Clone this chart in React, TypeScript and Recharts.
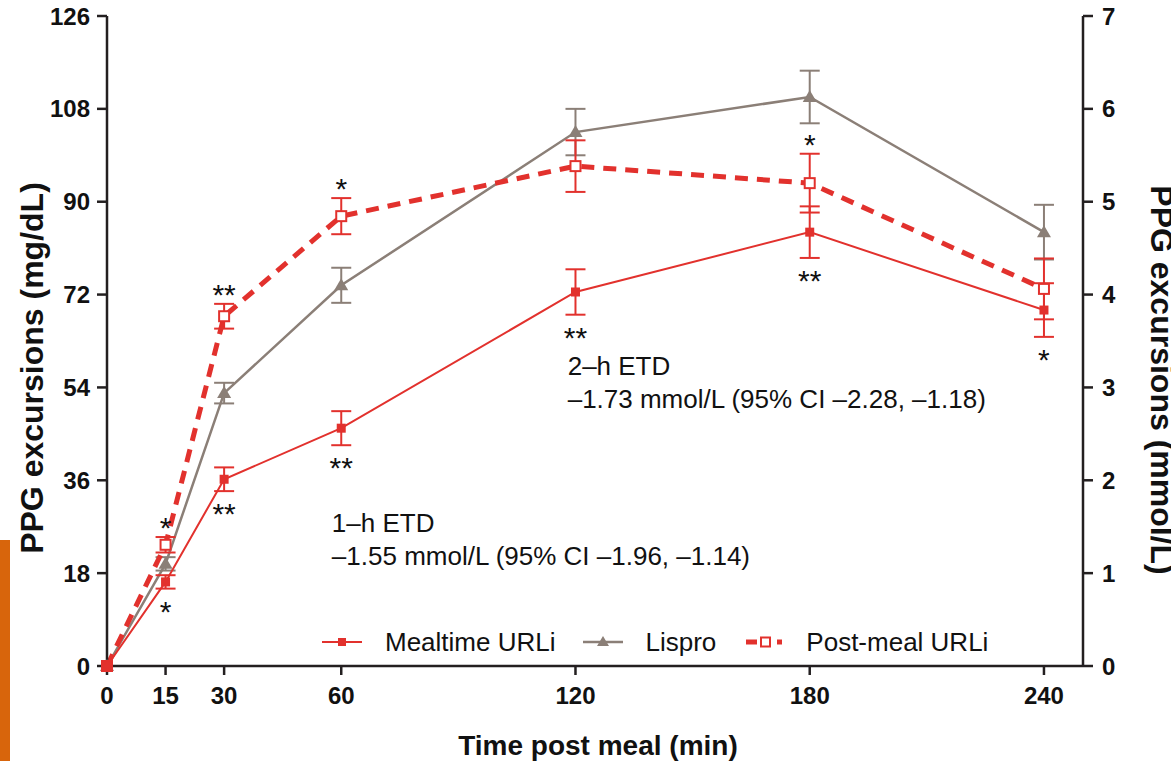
import React from "react";
import { LineChart, Line, XAxis, YAxis, ErrorBar, LabelList, ReferenceDot } from "recharts";

// time post meal (min)
const times = [0, 15, 30, 60, 120, 180, 240];

// PPG excursions, mg/dL (mean) and error bar half-length
const mealtimeUrli = [0, 16.3, 36.2, 46.1, 72.5, 84.1, 69.0];
const mealtimeErr = [0, 1.3, 2.3, 3.3, 4.4, 5.0, 5.2];
const lispro = [0, 19.8, 52.9, 73.8, 103.5, 110.3, 84.1];
const lisproErr = [0, 1.3, 2.0, 3.4, 4.5, 5.1, 5.3];
const postMealUrli = [0, 23.5, 67.8, 87.2, 96.9, 93.6, 73.1];
const postMealErr = [0, 1.5, 2.4, 3.5, 5.0, 5.7, 5.9];

// significance marks
const mealtimeStars = ["", "*", "**", "**", "**", "**", "*"];
const postMealStars = ["", "*", "**", "*", "", "*", ""];

const timeTicks = [0, 15, 30, 60, 120, 180, 240];
const mgTicks = [0, 18, 36, 54, 72, 90, 108, 126];
const mmolTicks = [0, 1, 2, 3, 4, 5, 6, 7];
const MG_PER_MMOL = 18;

const etdNotes = [
    { time: 118, mg: 56.5, lines: ["2\u2013h ETD", "\u20131.73 mmol/L (95% CI \u20132.28, \u20131.18)"] },
    { time: 57.6, mg: 26, lines: ["1\u2013h ETD", "\u20131.55 mmol/L (95% CI \u20131.96, \u20131.14)"] },
];

const RED = "#e2312d";
const GRAY = "#8b7f77";
const INK = "#231f20";
const FONT = '"Liberation Sans", Arial, Helvetica, sans-serif';

const W = 1171;
const H = 761;
const PLOT_H = 650;
const PX_PER_MG = PLOT_H / 126;

const data = times.map((t, i) => ({
    time: t,
    mealtime: mealtimeUrli[i],
    mealtimeErr: mealtimeErr[i],
    lispro: lispro[i],
    lisproErr: lisproErr[i],
    lisproMmol: lispro[i] / MG_PER_MMOL,
    postMeal: postMealUrli[i],
    postMealErr: postMealErr[i],
}));

const FilledSquare = (props: any) => {
    const { cx, cy, index } = props;
    return <rect key={`fs-${index}`} x={cx - 4.5} y={cy - 4.5} width={9} height={9} fill={RED} />;
};

const OpenSquare = (props: any) => {
    const { cx, cy, index } = props;
    return <rect key={`os-${index}`} x={cx - 5} y={cy - 5} width={10} height={10} fill="#fff" stroke={RED} strokeWidth={2} />;
};

const Triangle = (props: any) => {
    const { cx, cy, index } = props;
    return <polygon key={`tr-${index}`} points={`${cx},${cy - 7} ${cx + 7},${cy + 5} ${cx - 7},${cy + 5}`} fill={GRAY} />;
};

const starLabel = (stars: string[], errs: number[], side: "above" | "below") => (props: any) => {
    const { x, y, index } = props;
    const s = stars[index];
    if (!s) return null;
    const off = errs[index] * PX_PER_MG + 16;
    const c = side === "above" ? y - off : y + off;
    return (
        <text key={`st-${side}-${index}`} x={x} y={c + 17} textAnchor="middle" fontSize={30} fontFamily={FONT} fill="#111">
            {s}
        </text>
    );
};

const LegendBox = () => {
    const text = { fontSize: 26, fontFamily: FONT, color: "#111", lineHeight: "30px" };
    return (
        <div style={{ position: "absolute", left: 320, top: 627, display: "flex", alignItems: "center" }}>
            <svg width={44} height={20} style={{ marginRight: 21 }}>
                <line x1={2} x2={42} y1={10} y2={10} stroke={RED} strokeWidth={2} />
                <rect x={18} y={6} width={8} height={8} fill={RED} />
            </svg>
            <span style={{ ...text, marginRight: 25 }}>Mealtime URLi</span>
            <svg width={44} height={20} style={{ marginRight: 21 }}>
                <line x1={2} x2={42} y1={10} y2={10} stroke={GRAY} strokeWidth={2.5} />
                <polygon points="22,4 28,14 16,14" fill={GRAY} />
            </svg>
            <span style={{ ...text, marginRight: 28 }}>Lispro</span>
            <svg width={42} height={20} style={{ marginRight: 20 }}>
                <line x1={2} x2={13} y1={10} y2={10} stroke={RED} strokeWidth={5} />
                <rect x={17} y={5.5} width={9} height={9} fill="#fff" stroke={RED} strokeWidth={2} />
                <line x1={33} x2={38} y1={10} y2={10} stroke={RED} strokeWidth={5} />
            </svg>
            <span style={text}>Post-meal URLi</span>
        </div>
    );
};

const tickStyle = { fontSize: 24, fontWeight: "bold", fill: "#111", fontFamily: FONT };

const App: React.FC = () => {
    return (
        <div style={{ position: "absolute", left: 0, top: 0, width: W, height: H, background: "#fff", overflow: "hidden" }}>
            <div style={{ position: "absolute", left: 0, top: 540, width: 10, height: 221, background: "#d8650c" }} />
            <LineChart width={W} height={H} data={data} margin={{ top: 16, right: 0, bottom: 0, left: 0 }}>
                <XAxis
                    dataKey="time"
                    type="number"
                    domain={[0, 250]}
                    ticks={timeTicks}
                    height={95}
                    tickSize={9}
                    tickMargin={12}
                    tick={tickStyle}
                    stroke={INK}
                    strokeWidth={2.5}
                    label={{
                        content: () => (
                            <text x={598} y={755} textAnchor="middle" fontSize={28} fontWeight="bold" fontFamily={FONT} fill="#111">
                                Time post meal (min)
                            </text>
                        ),
                    }}
                />
                <YAxis
                    yAxisId="mg"
                    width={107}
                    domain={[0, 126]}
                    ticks={mgTicks}
                    tickSize={10}
                    tickMargin={7}
                    tick={tickStyle}
                    stroke={INK}
                    strokeWidth={2.5}
                    label={{
                        content: () => (
                            <text transform="translate(43, 368) rotate(-90)" textAnchor="middle" fontSize={32} fontWeight="bold" fontFamily={FONT} fill="#111">
                                PPG excursions (mg/dL)
                            </text>
                        ),
                    }}
                />
                <YAxis
                    yAxisId="mmol"
                    orientation="right"
                    width={88}
                    domain={[0, 7]}
                    ticks={mmolTicks}
                    tickSize={10}
                    tickMargin={9}
                    tick={tickStyle}
                    stroke={INK}
                    strokeWidth={2.5}
                    label={{
                        content: () => (
                            <text transform="translate(1151, 380) rotate(90)" textAnchor="middle" fontSize={32} fontWeight="bold" fontFamily={FONT} fill="#111">
                                PPG excursions (mmol/L)
                            </text>
                        ),
                    }}
                />
                {/* same lispro curve in mmol/L, invisible: only keeps the right axis scaled */}
                <Line yAxisId="mmol" type="linear" dataKey="lisproMmol" stroke="none" dot={false} activeDot={false} isAnimationActive={false} />
                <Line yAxisId="mg" type="linear" dataKey="lispro" stroke={GRAY} strokeWidth={2.5} dot={Triangle} activeDot={false} isAnimationActive={false}>
                    <ErrorBar dataKey="lisproErr" width={10} strokeWidth={2} stroke={GRAY} direction="y" />
                </Line>
                <Line yAxisId="mg" type="linear" dataKey="postMeal" stroke={RED} strokeWidth={5} strokeDasharray="13 9" dot={OpenSquare} activeDot={false} isAnimationActive={false}>
                    <ErrorBar dataKey="postMealErr" width={10} strokeWidth={2} stroke={RED} direction="y" />
                    <LabelList dataKey="postMeal" content={starLabel(postMealStars, postMealErr, "above")} />
                </Line>
                <Line yAxisId="mg" type="linear" dataKey="mealtime" stroke={RED} strokeWidth={2} dot={FilledSquare} activeDot={false} isAnimationActive={false}>
                    <ErrorBar dataKey="mealtimeErr" width={10} strokeWidth={2} stroke={RED} direction="y" />
                    <LabelList dataKey="mealtime" content={starLabel(mealtimeStars, mealtimeErr, "below")} />
                </Line>
                {etdNotes.map((n, i) => (
                    <ReferenceDot
                        key={`etd-${i}`}
                        yAxisId="mg"
                        x={n.time}
                        y={n.mg}
                        r={0}
                        fill="none"
                        stroke="none"
                        label={{
                            content: (p: any) => {
                                const vb = p.viewBox || {};
                                return (
                                    <text x={vb.x} y={vb.y} fontSize={26} fontFamily={FONT} fill="#111">
                                        {n.lines.map((l, j) => (
                                            <tspan key={j} x={vb.x} dy={j === 0 ? 0 : 33}>
                                                {l}
                                            </tspan>
                                        ))}
                                    </text>
                                );
                            },
                        }}
                    />
                ))}
            </LineChart>
            <LegendBox />
        </div>
    );
};

export default App;
